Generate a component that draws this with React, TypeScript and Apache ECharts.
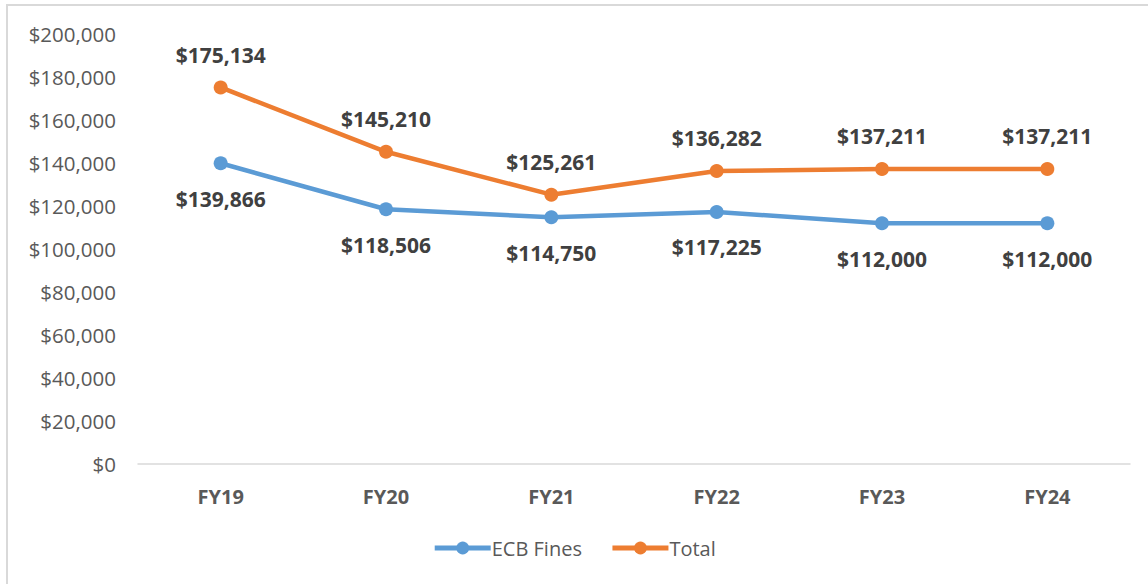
import React, { useEffect, useRef } from "react";
import * as echarts from "echarts";

const categories = ["FY19", "FY20", "FY21", "FY22", "FY23", "FY24"];
const ecbFines = [139866, 118506, 114750, 117225, 112000, 112000];
const total = [175134, 145210, 125261, 136282, 137211, 137211];
const yTicks = { min: 0, max: 200000, interval: 20000 };

const FONT = "'Open Sans', sans-serif";
const fmt = (v: number) => "$" + v.toLocaleString("en-US");

export default function App() {
  const ref = useRef<HTMLDivElement>(null);
  useEffect(() => {
    const chart = echarts.init(ref.current!, undefined, { renderer: "svg" });
    chart.setOption({
      animation: false,
      backgroundColor: "#fff",
      textStyle: { fontFamily: FONT },
      graphic: [
        {
          type: "rect",
          shape: { x: 7, y: 5, width: 1160, height: 600 },
          style: { fill: "none", stroke: "#d9d9d9", lineWidth: 2 },
          silent: true,
        },
      ],
      grid: { left: 138, right: 18, top: 34, bottom: 120 },
      legend: {
        bottom: 21,
        left: "center",
        itemWidth: 56,
        itemHeight: 16,
        itemGap: 28,
        lineStyle: { width: 5 },
        textStyle: { fontFamily: FONT, fontSize: 20, color: "#595959", padding: [0, 0, 0, -4] },
        data: ["ECB Fines", "Total"],
      },
      xAxis: {
        type: "category",
        data: categories,
        boundaryGap: true,
        axisLine: { lineStyle: { color: "#d9d9d9", width: 1.5 } },
        axisTick: { show: false },
        axisLabel: { fontFamily: FONT, fontSize: 20, fontWeight: "bold", color: "#595959", margin: 22 },
      },
      yAxis: {
        type: "value",
        min: yTicks.min,
        max: yTicks.max,
        interval: yTicks.interval,
        splitLine: { show: false },
        axisLine: { show: false },
        axisTick: { show: false },
        axisLabel: {
          fontFamily: FONT,
          fontSize: 20.5,
          color: "#595959",
          margin: 22,
          formatter: (v: number) => fmt(v),
        },
      },
      series: [
        {
          name: "ECB Fines",
          type: "line",
          data: ecbFines,
          color: "#5B9BD5",
          lineStyle: { width: 4.5 },
          symbol: "circle",
          symbolSize: 14,
          label: {
            show: true,
            position: "bottom",
            distance: 18,
            fontFamily: FONT,
            fontSize: 21,
            fontWeight: "bold",
            color: "#404040",
            formatter: (p: any) => fmt(p.value),
          },
        },
        {
          name: "Total",
          type: "line",
          data: total,
          color: "#ED7D31",
          lineStyle: { width: 4.5 },
          symbol: "circle",
          symbolSize: 14,
          label: {
            show: true,
            position: "top",
            distance: 15,
            fontFamily: FONT,
            fontSize: 21,
            fontWeight: "bold",
            color: "#404040",
            formatter: (p: any) => fmt(p.value),
          },
        },
      ],
    });
    return () => chart.dispose();
  }, []);
  return (
    <div
      ref={ref}
      style={{ position: "fixed", left: 0, top: 0, width: 1148, height: 584 }}
    />
  );
}
